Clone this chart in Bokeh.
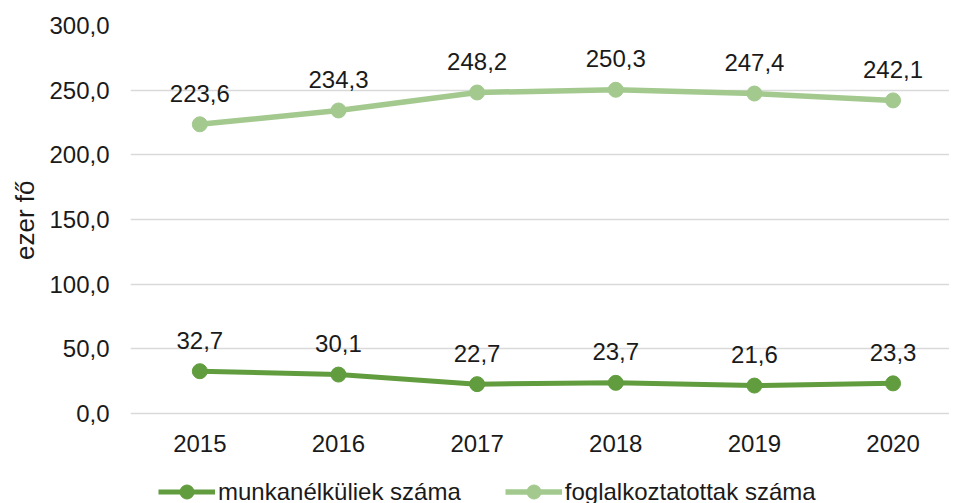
from bokeh.plotting import figure
from bokeh.models import FixedTicker, Range1d, Legend, LegendItem, ColumnDataSource, Title
from bokeh.embed import file_html
from bokeh.resources import INLINE
from bokeh.core.properties import value

years = ["2015", "2016", "2017", "2018", "2019", "2020"]
munkanelkuliek = [32.7, 30.1, 22.7, 23.7, 21.6, 23.3]
foglalkoztatottak = [223.6, 234.3, 248.2, 250.3, 247.4, 242.1]
y_ticks = [0, 50, 100, 150, 200, 250, 300]

DARK = "#619C3E"
LIGHT = "#A3C98F"
FONT = "Liberation Sans"
FS = "24px"
TXT = "#1a1a1a"

def fmt(v):
    return f"{v:.1f}".replace(".", ",")

xs = list(range(len(years)))

# frame: 300 at 25px from top, 0 at 413px; frame continues to the bottom (503px)
y_bottom = 300 - 478 * 300 / 388

p = figure(width=949, height=503, output_backend="svg", toolbar_location=None,
           x_axis_location=None,
           x_range=Range1d(-0.5, -0.5 + 827 / 140), y_range=Range1d(y_bottom, 300),
           min_border_left=122, min_border_right=0, min_border_top=25, min_border_bottom=0)
p.outline_line_color = None
p.background_fill_color = "white"

p.xgrid.grid_line_color = None
p.ygrid.grid_line_color = "#d9d9d9"
p.ygrid.grid_line_width = 1.5
p.yaxis.ticker = FixedTicker(ticks=y_ticks)
p.yaxis.major_label_overrides = {t: fmt(t) for t in y_ticks}
p.yaxis.major_tick_line_color = None
p.yaxis.minor_tick_line_color = None
p.yaxis.major_tick_out = 0
p.yaxis.major_tick_in = 0
p.yaxis.minor_tick_out = 0
p.yaxis.major_label_text_font = FONT
p.yaxis.major_label_text_font_size = FS
p.yaxis.major_label_text_color = TXT
p.yaxis.axis_line_color = None
p.yaxis.major_label_standoff = 21

ylab = Title(text="ezer fő", align="right", offset=155, text_font=FONT, text_font_size="26px",
             text_font_style="normal", text_color=TXT, standoff=14)
p.add_layout(ylab, "left")

src_m = ColumnDataSource(dict(x=xs, y=munkanelkuliek, t=[fmt(v) for v in munkanelkuliek]))
src_f = ColumnDataSource(dict(x=xs, y=foglalkoztatottak, t=[fmt(v) for v in foglalkoztatottak]))
src_c = ColumnDataSource(dict(x=xs, y=[0] * len(xs), t=years))

lm = p.line("x", "y", source=src_m, line_color=DARK, line_width=5)
sm = p.scatter("x", "y", source=src_m, size=15, fill_color=DARK, line_color=DARK)
lf = p.line("x", "y", source=src_f, line_color=LIGHT, line_width=5.5)
sf = p.scatter("x", "y", source=src_f, size=15, fill_color=LIGHT, line_color=LIGHT)

for src in (src_m, src_f):
    p.text("x", "y", text="t", source=src, text_align="center", text_baseline="middle",
           y_offset=-31, text_font=value(FONT), text_font_size=FS, text_color=TXT)

# category labels (years) below the zero line
p.text("x", "y", text="t", source=src_c, text_align="center", text_baseline="middle",
       y_offset=30, text_font=value(FONT), text_font_size=FS, text_color=TXT)

legend = Legend(items=[LegendItem(label="munkanélküliek száma", renderers=[lm, sm]),
                       LegendItem(label="foglalkoztatottak száma", renderers=[lf, sf])],
                orientation="horizontal", location=(28, -6),
                glyph_width=57, glyph_height=35, label_standoff=3, spacing=44,
                label_text_font=FONT, label_text_font_size=FS, label_text_color=TXT,
                border_line_color=None, background_fill_alpha=0, padding=0, margin=0)
p.add_layout(legend, "center")

open("out.html", "w").write(file_html(p, INLINE))
